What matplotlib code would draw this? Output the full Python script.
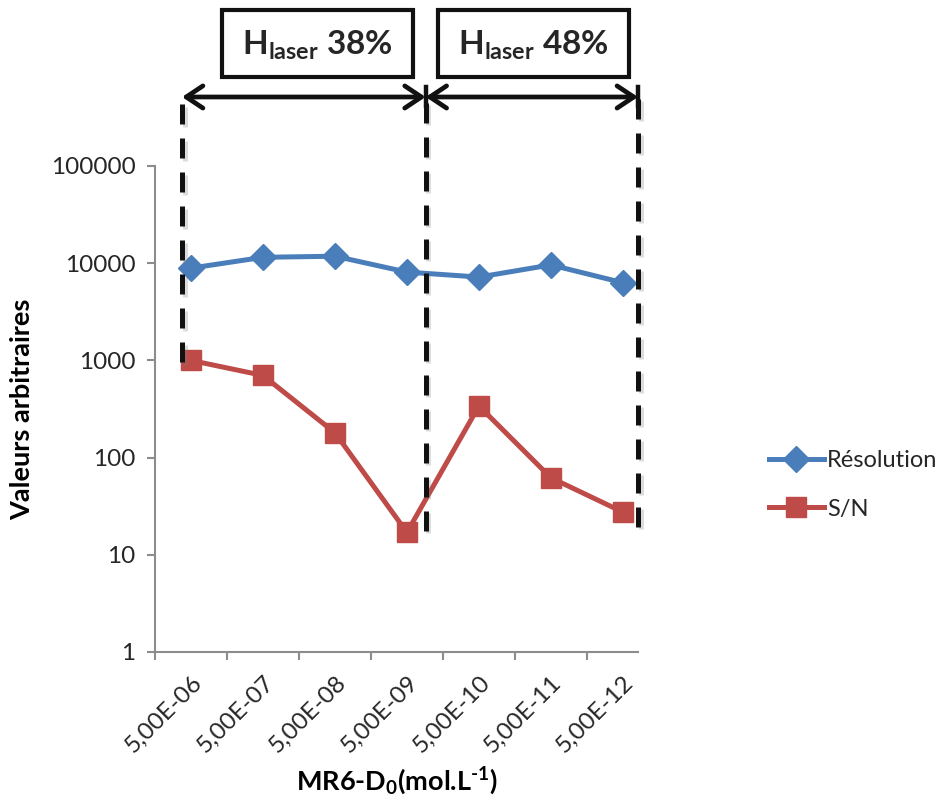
import numpy as np
import matplotlib.pyplot as plt
from matplotlib import patheffects as pe
from matplotlib.patches import Rectangle

plt.rcParams['font.family'] = ['Lato', 'DejaVu Sans']
plt.rcParams['mathtext.fontset'] = 'custom'
plt.rcParams['mathtext.rm'] = 'Lato'
plt.rcParams['mathtext.bf'] = 'Lato:bold'
plt.rcParams['mathtext.it'] = 'Lato:italic'
plt.rcParams['text.color'] = '#262626'

categories = ['5,00E-06', '5,00E-07', '5,00E-08', '5,00E-09',
              '5,00E-10', '5,00E-11', '5,00E-12']
resolution = [8900, 11500, 11800, 8100, 7200, 9600, 6300]
sn = [1000, 700, 180, 17, 340, 62, 27.5]

# laser power zones (edges in category units) and their labels
zone_edges = [-0.125, 3.26, 6.21]
zone_labels = [r'$\mathbf{H_{laser}}$ 38%', r'$\mathbf{H_{laser}}$ 48%']
# where each dashed line stops at the bottom
edge_bottoms = [10**2.98, 10**1.25, 10**1.29]

fig = plt.figure(figsize=(9.46, 8.02), dpi=100)
ax = fig.add_axes([155/946, 150/802, 483/946, 486/802])

x = np.arange(len(categories))
ax.plot(x, resolution, color='#4a7ebb', lw=3.6, marker='D', ms=13,
        label='Résolution', zorder=3)
ax.plot(x, sn, color='#be4b48', lw=3.6, marker='s', ms=15,
        label='S/N', zorder=3)

ax.set_yscale('log')
ax.set_ylim(1, 1e5)
ax.set_xlim(-0.5, 6.21)
ax.set_yticks([1, 10, 100, 1000, 10000, 100000])
ax.set_yticklabels(['1', '10', '100', '1000', '10000', '100000'])
ax.yaxis.set_minor_locator(plt.NullLocator())
ax.set_xticks(x)
ax.set_xticklabels(categories, rotation=45, ha='right', rotation_mode='anchor')
ax.set_xticks(np.arange(-0.5, 6.0, 1.0), minor=True)
ax.tick_params(axis='x', which='major', length=0, pad=14, labelsize=17.5)
ax.tick_params(axis='x', which='minor', length=6, width=1.5, color='#8c8c8c')
ax.tick_params(axis='y', length=6, width=1.5, color='#8c8c8c', labelsize=17.5,
               pad=8, labelcolor='#262626')
ax.tick_params(axis='x', labelcolor='#262626')
for s in ['top', 'right']:
    ax.spines[s].set_visible(False)
for s in ['left', 'bottom']:
    ax.spines[s].set_color('#8c8c8c')
    ax.spines[s].set_linewidth(1.5)

ax.set_ylabel('Valeurs arbitraires', fontsize=19.5, fontweight='bold', labelpad=12)
ax.set_xlabel(r'MR6-D$_\mathbf{0}$(mol.L$^\mathbf{‐1}$)', fontsize=19.5,
              fontweight='bold', labelpad=6)

# dashed separators with shadow
top = 10**5.7
for xe, yb in zip(zone_edges, edge_bottoms):
    ax.plot([xe, xe], [yb, top], color='#111111', lw=3.6, dashes=(4, 2.8),
            clip_on=False, zorder=4,
            path_effects=[pe.SimpleLineShadow(offset=(2, -2), shadow_color='#777777', alpha=0.25),
                          pe.Normal()])

# double arrows between separators
ya = 10**5.71
for x0, x1 in zip(zone_edges[:-1], zone_edges[1:]):
    ax.annotate('', xy=(x1, ya), xytext=(x0, ya), xycoords='data',
                annotation_clip=False,
                arrowprops=dict(arrowstyle='<->,head_length=0.6,head_width=0.4',
                                lw=3.4, color='#111111', shrinkA=0, shrinkB=0,
                                mutation_scale=20))
for xe in zone_edges[1:]:
    ax.plot([xe, xe], [10**5.62, 10**5.81], color='#111111', lw=3.2,
            clip_on=False, zorder=5)

# label boxes above the arrows
box_lefts = [222, 438]
for bl, lab in zip(box_lefts, zone_labels):
    fig.patches.append(Rectangle((bl/946, 1 - 77/802), 191/946, 67/802,
                                 transform=fig.transFigure, fill=False,
                                 lw=3, edgecolor='#111111'))
    fig.text((bl + 95)/946, 1 - 45/802, lab, ha='center', va='center',
             fontsize=24, fontweight='bold')

fig.legend(loc='center left', bbox_to_anchor=(748/946, 1 - 485/802),
           frameon=False, fontsize=17, handlelength=2.3, labelspacing=1.15,
           handletextpad=0.15)

fig.savefig('out.png', dpi=100)
